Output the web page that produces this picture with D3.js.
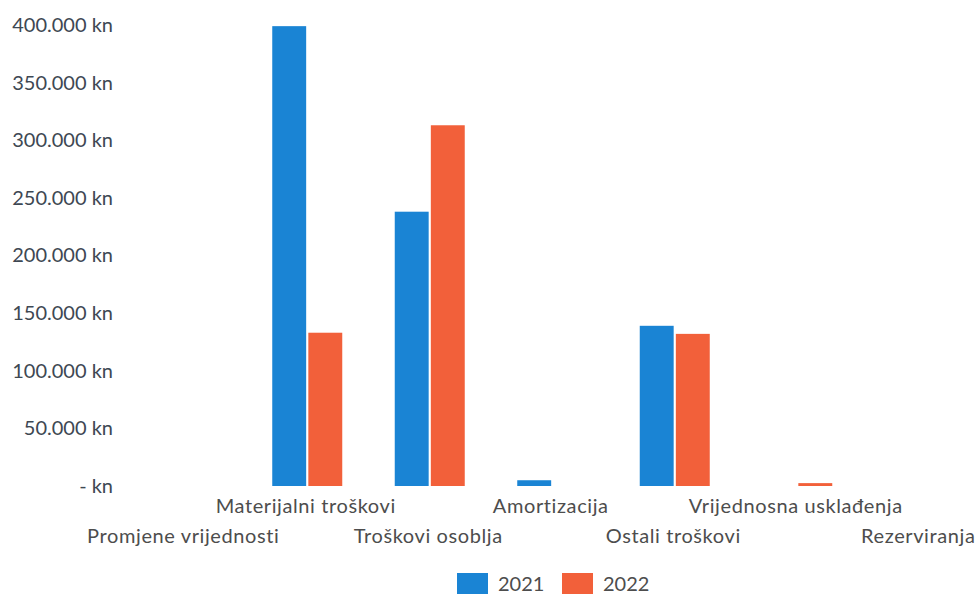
<!DOCTYPE html>
<html>
<head>
<meta charset="utf-8">
<script src="https://cdn.jsdelivr.net/npm/d3@7"></script>
<style>
  html, body { margin: 0; padding: 0; background: #fff; }
  svg { display: block; }
  text { font-family: Lato, "Open Sans", sans-serif; }
</style>
</head>
<body>
<svg id="chart" width="977" height="599"></svg>
<script>
const categories = [
  "Promjene vrijednosti",
  "Materijalni troškovi",
  "Troškovi osoblja",
  "Amortizacija",
  "Ostali troškovi",
  "Vrijednosna usklađenja",
  "Rezerviranja"
];
const seriesNames = ["2021", "2022"];
const values2021 = [0, 399000, 238000, 5000, 139000, 0, 0];
const values2022 = [0, 133000, 313000, 0, 132000, 2500, 0];
const tickValues = [0, 50000, 100000, 150000, 200000, 250000, 300000, 350000, 400000];
const tickLabels = ["- kn", "50.000 kn", "100.000 kn", "150.000 kn", "200.000 kn", "250.000 kn", "300.000 kn", "350.000 kn", "400.000 kn"];
const colors = ["#1a84d4", "#f2603a"];

const svg = d3.select("#chart");

const x = d3.scaleBand().domain(categories).range([123.5, 981]).padding(0);
const bw = x.bandwidth();
const x1 = d3.scaleBand().domain(seriesNames).range([bw / 2 - 35, bw / 2 + 35]).paddingInner(0.06);
const y = d3.scaleLinear().domain([0, 400000]).range([486, 25]);

// Y axis
const yAxis = d3.axisLeft(y)
  .tickValues(tickValues)
  .tickFormat((d, i) => tickLabels[i])
  .tickSize(0)
  .tickPadding(0);
const gy = svg.append("g").attr("transform", "translate(113,0)").call(yAxis);
gy.select(".domain").remove();
gy.selectAll("text")
  .attr("font-family", "Lato, 'Open Sans', sans-serif")
  .attr("font-size", 20)
  .attr("fill", "#3e4853");

// Bars
const data = categories.map((c, i) => ({ cat: c, vals: [values2021[i], values2022[i]] }));
const groups = svg.append("g").selectAll("g")
  .data(data).join("g")
  .attr("transform", d => `translate(${x(d.cat)},0)`);
groups.selectAll("rect")
  .data(d => d.vals.map((v, j) => ({ key: seriesNames[j], v, j })).filter(e => e.v !== 0))
  .join("rect")
  .attr("x", e => x1(e.key))
  .attr("width", x1.bandwidth())
  .attr("y", e => y(Math.max(0, e.v)))
  .attr("height", e => Math.abs(y(e.v) - y(0)))
  .attr("fill", e => colors[e.j]);

// Category labels (staggered)
const xAxis = d3.axisBottom(x).tickSize(0).tickPadding(0);
const gx = svg.append("g").attr("transform", "translate(-1.5,0)").call(xAxis);
gx.select(".domain").remove();
gx.selectAll("text")
  .attr("font-family", "Lato, 'Open Sans', sans-serif")
  .attr("font-size", 20)
  .attr("fill", "#4d4d4d")
  .attr("dy", null)
  .attr("y", (d, i) => i % 2 === 0 ? 543 : 513)
  .attr("letter-spacing", 0.6);

// Legend
const legend = svg.append("g");
const legendX = [457, 562];
seriesNames.forEach((s, i) => {
  legend.append("rect")
    .attr("x", legendX[i]).attr("y", 573)
    .attr("width", 31).attr("height", 21)
    .attr("fill", colors[i]);
  legend.append("text")
    .attr("x", legendX[i] + 41).attr("y", 584)
    .attr("dy", "0.35em")
    .attr("font-size", 20)
    .attr("fill", "#4d4d4d")
    .text(s);
});
</script>
</body>
</html>
